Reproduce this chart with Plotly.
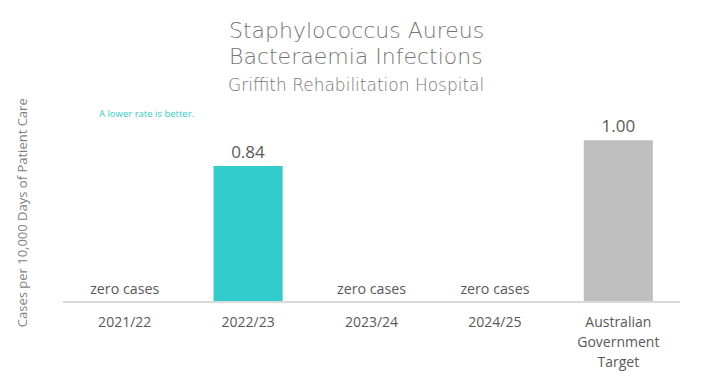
import plotly.graph_objects as go

categories = ["2021/22", "2022/23", "2023/24", "2024/25", "Australian<br>Government<br>Target"]
values = [0, 0.84, 0, 0, 1.00]
labels = ["zero cases", "0.84", "zero cases", "zero cases", "1.00"]
colors = ["#33CCCC", "#33CCCC", "#33CCCC", "#33CCCC", "#BFBFBF"]

tick_text = ["<br>".join(f"<span style='font-size:14px'>{part}</span>" for part in c.split("<br>"))
             for c in categories]

fig = go.Figure()
fig.add_trace(go.Bar(
    x=categories, y=values, marker=dict(color=colors, line=dict(width=0)),
    text=labels, textposition="outside", cliponaxis=False,
    textfont=dict(family="Open Sans", size=17, color="#595959"),
    width=0.56, hoverinfo="skip",
))

title_font = dict(family="DejaVu Sans", size=22, color="#767676", weight=200)
fig.update_layout(
    width=703, height=377,
    margin=dict(l=63, r=23, t=100, b=76, autoexpand=False),
    plot_bgcolor="white", paper_bgcolor="white",
    showlegend=False,
    xaxis=dict(
        showline=True, linecolor="#D9D9D9", linewidth=1.5,
        tickfont=dict(family="Open Sans", size=15.4, color="#595959"),
        tickvals=categories, ticktext=tick_text, automargin=False,
        ticks="", fixedrange=True, ticklabelstandoff=6,
    ),
    yaxis=dict(
        range=[0, 1.25], showgrid=False, showticklabels=False, zeroline=False,
        fixedrange=True, automargin=False,
    ),
    annotations=[
        dict(text="Staphylococcus Aureus", xref="paper", yref="paper", x=0.475, y=1.348,
             xanchor="center", yanchor="middle", showarrow=False, font=title_font),
        dict(text="Bacteraemia Infections", xref="paper", yref="paper", x=0.475, y=1.214,
             xanchor="center", yanchor="middle", showarrow=False, font=title_font),
        dict(text="Griffith Rehabilitation Hospital", xref="paper", yref="paper", x=0.475, y=1.075,
             xanchor="center", yanchor="middle", showarrow=False,
             font=dict(family="DejaVu Sans", size=17, color="#767676", weight=200)),
        dict(text="A lower rate is better.", xref="paper", yref="paper",
             x=0.135, y=0.935, xanchor="center", yanchor="middle", showarrow=False,
             font=dict(family="Open Sans", size=9.5, color="#33CCCC")),
        dict(text="Cases per 10,000 Days of Patient Care", xref="paper", yref="paper",
             x=-0.067, y=0.44, xanchor="center", yanchor="middle", textangle=-90, showarrow=False,
             font=dict(family="Open Sans", size=13, color="#7F7F7F")),
    ],
)

fig.write_html("out.html")
